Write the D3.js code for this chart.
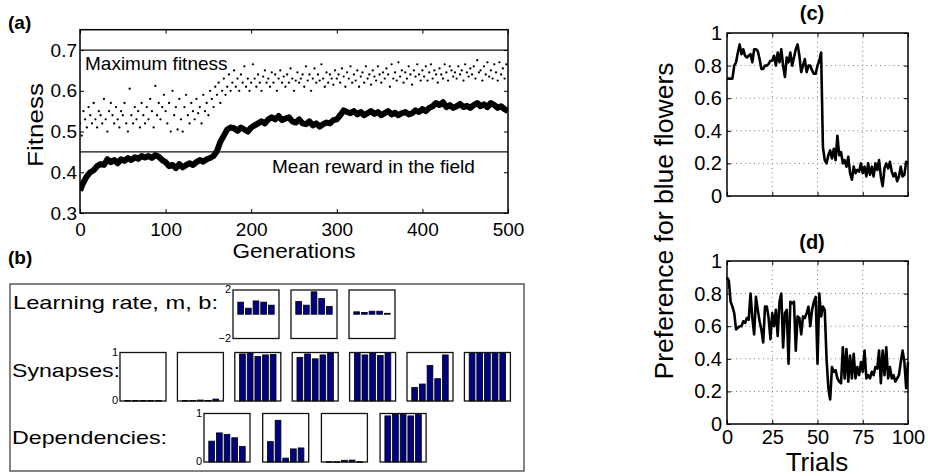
<!DOCTYPE html>
<html>
<head>
<meta charset="utf-8">
<script src="https://cdn.jsdelivr.net/npm/d3@7"></script>
<style>
  body { margin: 0; background: #fff; }
  svg { display: block; }
</style>
</head>
<body>
<script>
// ---- data ----
const genTicks = [0, 100, 200, 300, 400, 500];
const fitnessTicks = [0.3, 0.4, 0.5, 0.6, 0.7];
const maxFitness = 0.7;
const meanReward = 0.45;

// mean fitness of the population, one value every 4 generations
const meanStep = 4;
const meanFitness = [
  0.355, 0.375, 0.39, 0.40, 0.405, 0.415, 0.42, 0.418, 0.432, 0.425,
  0.43, 0.422, 0.432, 0.428, 0.435, 0.43, 0.437, 0.433, 0.44, 0.436,
  0.44, 0.435, 0.442, 0.438, 0.43, 0.425, 0.415, 0.418, 0.41, 0.42,
  0.412, 0.418, 0.422, 0.418, 0.425, 0.43, 0.426, 0.432, 0.435, 0.44,
  0.452, 0.475, 0.49, 0.505, 0.51, 0.508, 0.502, 0.51, 0.505, 0.50,
  0.51, 0.515, 0.52, 0.525, 0.52, 0.53, 0.535, 0.53, 0.538, 0.528,
  0.532, 0.535, 0.525, 0.522, 0.53, 0.52, 0.518, 0.525, 0.515, 0.52,
  0.512, 0.518, 0.522, 0.52, 0.528, 0.53, 0.54, 0.552, 0.548, 0.545,
  0.55, 0.542, 0.548, 0.54, 0.545, 0.55, 0.543, 0.548, 0.54, 0.545,
  0.55, 0.542, 0.546, 0.54, 0.545, 0.548, 0.542, 0.545, 0.552, 0.548,
  0.555, 0.55, 0.558, 0.562, 0.57, 0.565, 0.572, 0.56, 0.565, 0.558,
  0.562, 0.568, 0.56, 0.563, 0.558, 0.565, 0.57, 0.562, 0.567, 0.56,
  0.57, 0.565, 0.558, 0.562, 0.555, 0.55
];

// best individual, one value every 2 generations
const bestStep = 2;
const bestFitness = [
  0.52, 0.49, 0.55, 0.53, 0.51, 0.56, 0.54, 0.52, 0.57, 0.53,
  0.51, 0.55, 0.54, 0.52, 0.58, 0.53, 0.50, 0.55, 0.57, 0.54,
  0.52, 0.56, 0.53, 0.51, 0.55, 0.54, 0.57, 0.52, 0.50, 0.605,
  0.54, 0.52, 0.56, 0.53, 0.55, 0.51, 0.57, 0.54, 0.52, 0.56,
  0.53, 0.58, 0.55, 0.51, 0.612, 0.54, 0.57, 0.53, 0.56, 0.59,
  0.55, 0.52, 0.57, 0.50, 0.60, 0.54, 0.56, 0.505, 0.58, 0.53,
  0.50, 0.56, 0.59, 0.54, 0.52, 0.57, 0.55, 0.53, 0.58, 0.545,
  0.56, 0.52, 0.59, 0.55, 0.57, 0.54, 0.60, 0.58, 0.56, 0.61,
  0.59, 0.62, 0.57, 0.60, 0.63, 0.59, 0.61, 0.64, 0.60, 0.62,
  0.65, 0.61, 0.63, 0.60, 0.64, 0.62, 0.66, 0.61, 0.63, 0.60,
  0.62, 0.665, 0.63, 0.61, 0.64, 0.62, 0.60, 0.635, 0.65, 0.62,
  0.63, 0.61, 0.645, 0.62, 0.64, 0.60, 0.63, 0.65, 0.62, 0.635,
  0.61, 0.64, 0.62, 0.655, 0.63, 0.60, 0.625, 0.645, 0.62, 0.63,
  0.64, 0.61, 0.66, 0.625, 0.64, 0.60, 0.63, 0.655, 0.62, 0.64,
  0.625, 0.665, 0.63, 0.61, 0.645, 0.62, 0.64, 0.63, 0.615, 0.65,
  0.63, 0.64, 0.62, 0.655, 0.635, 0.61, 0.645, 0.63, 0.66, 0.62,
  0.64, 0.625, 0.65, 0.61, 0.635, 0.645, 0.62, 0.66, 0.63, 0.64,
  0.615, 0.65, 0.635, 0.625, 0.66, 0.64, 0.62, 0.645, 0.63, 0.655,
  0.64, 0.61, 0.665, 0.63, 0.645, 0.625, 0.67, 0.635, 0.65, 0.62,
  0.645, 0.63, 0.66, 0.64, 0.615, 0.65, 0.635, 0.665, 0.64, 0.625,
  0.65, 0.635, 0.66, 0.625, 0.645, 0.665, 0.63, 0.65, 0.64, 0.62,
  0.655, 0.64, 0.63, 0.665, 0.645, 0.625, 0.66, 0.65, 0.635, 0.645,
  0.63, 0.66, 0.64, 0.65, 0.625, 0.665, 0.645, 0.635, 0.655, 0.64,
  0.66, 0.63, 0.675, 0.645, 0.65, 0.625, 0.66, 0.64, 0.67, 0.635,
  0.65, 0.63, 0.665, 0.645, 0.625, 0.67, 0.64, 0.655, 0.63, 0.665
];

// panel (b) genome bars
const learningBars = [
  [1.0, 0.5, 1.1, 1.0, 0.75],
  [1.05, 0.75, 1.85, 1.3, 0.65],
  [0.2, 0.15, 0.25, 0.25, 0.08]
];
const synapseBars = [
  [0.01, 0.01, 0.01, 0.01, 0.01],
  [0.01, 0.01, 0.02, 0.01, 0.04],
  [0.97, 1.0, 0.92, 0.95, 0.96],
  [0.9, 0.97, 0.87, 0.95, 1.0],
  [0.98, 0.95, 1.0, 0.94, 1.0],
  [0.28, 0.35, 0.73, 0.46, 0.95],
  [1.0, 1.0, 1.0, 1.0, 1.0]
];
const dependencyBars = [
  [0.43, 0.6, 0.57, 0.5, 0.32],
  [0.42, 0.86, 0.08, 0.27, 0.29],
  [0.005, 0.005, 0.035, 0.04, 0.005],
  [0.95, 0.98, 0.98, 0.95, 0.98]
];

// panels (c) and (d): preference per trial, trials 0..100
const trialTicks = [0, 25, 50, 75, 100];
const prefTicks = [0, 0.2, 0.4, 0.6, 0.8, 1];
const prefC = [
  0.72, 0.72, 0.72, 0.72, 0.80, 0.82, 0.88, 0.93, 0.87, 0.90,
  0.86, 0.85, 0.86, 0.87, 0.82, 0.90, 0.90, 0.89, 0.84, 0.78,
  0.78, 0.80, 0.80, 0.81, 0.83, 0.83, 0.86, 0.80, 0.88, 0.82,
  0.90, 0.80, 0.73, 0.85, 0.82, 0.88, 0.80, 0.85, 0.90, 0.93,
  0.86, 0.76, 0.80, 0.84, 0.76, 0.80, 0.80, 0.77, 0.75, 0.75,
  0.80, 0.83, 0.88, 0.30, 0.22, 0.20, 0.25, 0.28, 0.23, 0.29,
  0.22, 0.37, 0.25, 0.27, 0.20, 0.22, 0.18, 0.24, 0.14, 0.10,
  0.18, 0.14, 0.16, 0.15, 0.20, 0.14, 0.18, 0.12, 0.20, 0.13,
  0.18, 0.12, 0.20, 0.16, 0.22, 0.12, 0.06, 0.17, 0.20, 0.17,
  0.21, 0.15, 0.12, 0.14, 0.09, 0.12, 0.18, 0.12, 0.13, 0.21,
  0.20
];
const prefD = [
  0.90, 0.88, 0.75, 0.72, 0.68, 0.58, 0.59, 0.60, 0.60, 0.63,
  0.62, 0.65, 0.64, 0.80, 0.65, 0.55, 0.78, 0.70, 0.63, 0.58,
  0.50, 0.72, 0.72, 0.65, 0.52, 0.68, 0.60, 0.70, 0.54, 0.75,
  0.80, 0.47, 0.68, 0.70, 0.37, 0.75, 0.74, 0.75, 0.45, 0.66,
  0.65, 0.55, 0.66, 0.65, 0.68, 0.72, 0.60, 0.70, 0.75, 0.78,
  0.37, 0.80, 0.66, 0.72, 0.70, 0.40, 0.22, 0.15, 0.35, 0.32,
  0.33, 0.28, 0.26, 0.25, 0.47, 0.28, 0.46, 0.26, 0.42, 0.28,
  0.43, 0.28, 0.35, 0.30, 0.38, 0.32, 0.45, 0.28, 0.30, 0.28,
  0.32, 0.30, 0.35, 0.34, 0.45, 0.25, 0.45, 0.30, 0.47, 0.28,
  0.35, 0.28, 0.30, 0.26, 0.28, 0.30, 0.38, 0.45, 0.38, 0.22,
  0.38
];

// ---- drawing ----
const W = 928, H = 476;
const svg = d3.select("body").append("svg")
  .attr("width", W).attr("height", H)
  .style("font-family", "'Liberation Sans', Arial, sans-serif");

// remove d3's axis defaults so text sizes can be set per axis
function styleAxis(g, size) {
  g.attr("font-family", null).attr("font-size", size);
  g.select(".domain").remove();
  g.selectAll(".tick line").attr("stroke", "#000").attr("stroke-width", 1);
  g.selectAll(".tick text").attr("fill", "#000");
}

// panel (a)
const A = { l: 80, r: 508, t: 29.7, b: 213 };
const xA = d3.scaleLinear().domain([0, 500]).range([A.l, A.r]);
const yA = d3.scaleLinear().domain([0.3, 0.75]).range([A.b, A.t]);
const gA = svg.append("g");

svg.append("clipPath").attr("id", "clipA")
  .append("rect").attr("x", A.l).attr("y", A.t)
  .attr("width", A.r - A.l).attr("height", A.b - A.t);

gA.append("g").attr("clip-path", "url(#clipA)")
  .selectAll("circle").data(bestFitness).join("circle")
  .attr("cx", (d, i) => xA(i * bestStep))
  .attr("cy", d => yA(d))
  .attr("r", 1.15)
  .attr("fill", "#000");

gA.append("path")
  .datum(meanFitness)
  .attr("clip-path", "url(#clipA)")
  .attr("fill", "none")
  .attr("stroke", "#000")
  .attr("stroke-width", 6)
  .attr("stroke-linejoin", "round")
  .attr("d", d3.line().x((d, i) => xA(i * meanStep)).y(d => yA(d)));

[maxFitness, meanReward].forEach(v => {
  gA.append("line")
    .attr("x1", A.l).attr("x2", A.r)
    .attr("y1", yA(v)).attr("y2", yA(v))
    .attr("stroke", "#111").attr("stroke-width", 1.2);
});

gA.append("g").attr("transform", `translate(0,${A.b})`)
  .call(d3.axisBottom(xA).tickValues(genTicks).tickSize(-4).tickPadding(10).tickFormat(d3.format("d")))
  .call(g => styleAxis(g, 19));
gA.append("g").attr("transform", `translate(0,${A.t})`)
  .call(d3.axisTop(xA).tickValues(genTicks).tickSize(-4).tickFormat(""))
  .call(g => styleAxis(g, 10));
gA.append("g").attr("transform", `translate(${A.l},0)`)
  .call(d3.axisLeft(yA).tickValues(fitnessTicks).tickSize(-4).tickPadding(3).tickFormat(d3.format(".1f")))
  .call(g => styleAxis(g, 19));
gA.append("g").attr("transform", `translate(${A.r},0)`)
  .call(d3.axisRight(yA).tickValues(fitnessTicks).tickSize(-4).tickFormat(""))
  .call(g => styleAxis(g, 10));

gA.append("rect")
  .attr("x", A.l).attr("y", A.t)
  .attr("width", A.r - A.l).attr("height", A.b - A.t)
  .attr("fill", "none").attr("stroke", "#000").attr("stroke-width", 1.5);

gA.append("text").attr("x", 85).attr("y", 70).attr("font-size", 19).text("Maximum fitness");
gA.append("text").attr("x", 272).attr("y", 173).attr("font-size", 19).text("Mean reward in the field");
gA.append("text").attr("x", 294).attr("y", 258).attr("font-size", 21)
  .attr("text-anchor", "middle")
  .attr("textLength", 123).attr("lengthAdjust", "spacingAndGlyphs")
  .text("Generations");
gA.append("text")
  .attr("transform", "translate(43,125) rotate(-90)")
  .attr("text-anchor", "middle").attr("font-size", 22)
  .attr("textLength", 84).attr("lengthAdjust", "spacingAndGlyphs")
  .text("Fitness");
gA.append("text").attr("x", 8).attr("y", 29).attr("font-size", 19)
  .attr("font-weight", "bold").text("(a)");

// panel (b)
const gB = svg.append("g");
gB.append("text").attr("x", 8).attr("y", 264).attr("font-size", 19)
  .attr("font-weight", "bold").text("(b)");
gB.append("rect")
  .attr("x", 10).attr("y", 284).attr("width", 514).attr("height", 187)
  .attr("fill", "none").attr("stroke", "#333").attr("stroke-width", 1.2);

const boxW = 46, boxH = 48.5;
const rows = [
  { label: "Learning rate, m, b:", lx: 13, ly: 309, len: 205, left: 233, gap: 58, top: 290,
    data: learningBars, domain: [-2, 2], ticks: ["2", "\u22122"] },
  { label: "Synapses:", lx: 12, ly: 377, len: 108, left: 120, gap: 57.4, top: 352.5,
    data: synapseBars, domain: [0, 1], ticks: ["1", "0"] },
  { label: "Dependencies:", lx: 12, ly: 444, len: 155, left: 204, gap: 58.7, top: 413.5,
    data: dependencyBars, domain: [0, 1], ticks: ["1", "0"] }
];

rows.forEach(row => {
  gB.append("text")
    .attr("x", row.lx).attr("y", row.ly).attr("font-size", 19)
    .attr("textLength", row.len).attr("lengthAdjust", "spacingAndGlyphs")
    .text(row.label);

  row.data.forEach((vals, k) => {
    const x0 = row.left + k * row.gap;
    const xb = d3.scaleLinear().domain([0, 6]).range([x0, x0 + boxW]);
    const yb = d3.scaleLinear().domain(row.domain).range([row.top + boxH, row.top]);
    const bw = (xb(1) - xb(0)) * 0.75;
    const g = gB.append("g");
    g.selectAll("rect").data(vals).join("rect")
      .attr("x", (d, i) => xb(i + 1) - bw / 2)
      .attr("y", d => Math.min(yb(d), yb(0)))
      .attr("width", bw)
      .attr("height", d => Math.max(Math.abs(yb(d) - yb(0)), 0.6))
      .attr("fill", "#000080")
      .attr("stroke", "#000").attr("stroke-width", 0.8);
    g.append("rect")
      .attr("x", x0).attr("y", row.top).attr("width", boxW).attr("height", boxH)
      .attr("fill", "none").attr("stroke", "#111").attr("stroke-width", 1.3);
    if (k === 0) {
      g.append("text").attr("x", x0 - 2).attr("y", row.top + 3)
        .attr("text-anchor", "end").attr("font-size", 11).text(row.ticks[0]);
      g.append("text").attr("x", x0 - 2).attr("y", row.top + boxH + 3)
        .attr("text-anchor", "end").attr("font-size", 11).text(row.ticks[1]);
    }
  });
});

// panels (c) and (d)
const xP = d3.scaleLinear().domain([0, 100]).range([727, 908]);
const prefPanels = [
  { vals: prefC, t: 33, b: 196, title: "(c)", ty: 20, labels: false },
  { vals: prefD, t: 261, b: 424, title: "(d)", ty: 249, labels: true }
];

prefPanels.forEach(p => {
  const yP = d3.scaleLinear().domain([0, 1]).range([p.b, p.t]);
  const g = svg.append("g");
  const fmt = d => (d === 0 || d === 1) ? String(d) : d.toFixed(1);

  g.append("g").selectAll("line").data(trialTicks.slice(1, -1)).join("line")
    .attr("x1", d => xP(d)).attr("x2", d => xP(d))
    .attr("y1", p.t).attr("y2", p.b)
    .attr("stroke", "#777").attr("stroke-dasharray", "1,3.5");
  g.append("g").selectAll("line").data(prefTicks.slice(1, -1)).join("line")
    .attr("x1", xP(0)).attr("x2", xP(100))
    .attr("y1", d => yP(d)).attr("y2", d => yP(d))
    .attr("stroke", "#777").attr("stroke-dasharray", "1,3.5");

  g.append("path")
    .datum(p.vals)
    .attr("fill", "none")
    .attr("stroke", "#000")
    .attr("stroke-width", 2.6)
    .attr("stroke-linejoin", "round")
    .attr("d", d3.line().x((d, i) => xP(i)).y(d => yP(d)));

  g.append("g").attr("transform", `translate(0,${p.b})`)
    .call(d3.axisBottom(xP).tickValues(trialTicks).tickSize(-4).tickPadding(6)
      .tickFormat(p.labels ? d3.format("d") : ""))
    .call(a => styleAxis(a, 20));
  g.append("g").attr("transform", `translate(0,${p.t})`)
    .call(d3.axisTop(xP).tickValues(trialTicks).tickSize(-4).tickFormat(""))
    .call(a => styleAxis(a, 10));
  g.append("g").attr("transform", `translate(${xP(0)},0)`)
    .call(d3.axisLeft(yP).tickValues(prefTicks).tickSize(-4).tickPadding(5).tickFormat(fmt))
    .call(a => styleAxis(a, 20));
  g.append("g").attr("transform", `translate(${xP(100)},0)`)
    .call(d3.axisRight(yP).tickValues(prefTicks).tickSize(-4).tickFormat(""))
    .call(a => styleAxis(a, 10));

  g.append("rect")
    .attr("x", xP(0)).attr("y", p.t)
    .attr("width", xP(100) - xP(0)).attr("height", p.b - p.t)
    .attr("fill", "none").attr("stroke", "#000").attr("stroke-width", 1.5);

  g.append("text").attr("x", 812).attr("y", p.ty).attr("text-anchor", "middle")
    .attr("font-size", 20).attr("font-weight", "bold").text(p.title);
});

svg.append("text").attr("x", 817).attr("y", 471).attr("text-anchor", "middle")
  .attr("font-size", 26).text("Trials");
svg.append("text")
  .attr("transform", "translate(673,221) rotate(-90)")
  .attr("text-anchor", "middle").attr("font-size", 26)
  .attr("textLength", 317).attr("lengthAdjust", "spacingAndGlyphs")
  .text("Preference for blue flowers");
</script>
</body>
</html>
